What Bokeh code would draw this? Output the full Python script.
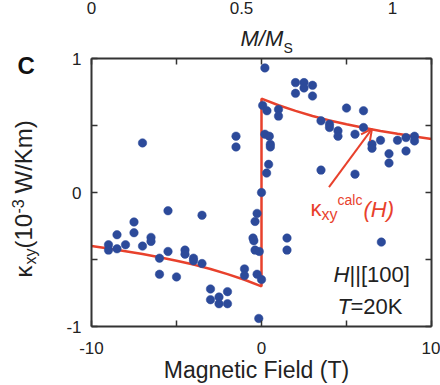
import math

from bokeh.embed import file_html
from bokeh.models import (Arrow, FixedTicker, Label, LinearAxis, OpenHead,
                          Range1d)
from bokeh.plotting import figure
from bokeh.resources import INLINE

# Measured thermal Hall conductivity kappa_xy (1e-3 W/Km) vs. magnetic field (T)
field = [-9.0, -9.0, -8.5, -8.5, -8.0, -7.5, -7.5, -7.0, -7.0, -6.5, -6.5,
         -6.0, -6.0, -5.5, -5.5, -5.0, -4.5, -4.5, -4.0, -4.0, -3.5, -3.5,
         -3.0, -3.0, -2.5, -2.5, -2.0, -2.0, -1.5, -1.5, -1.0, -1.0,
         -0.5, -0.45, -0.38, -0.38, -0.26, -0.26, -0.16, -0.13, 0.0, 0.0,
         0.07, 0.2, 0.2, 0.3, 0.32, 0.42, 0.46, 0.52, 0.52, 1.0, 1.0,
         1.5, 1.5, 2.0, 2.0, 2.5, 2.5, 3.0, 3.0, 3.5, 3.5, 4.0, 4.0,
         4.5, 4.5, 5.0, 5.5, 5.5, 6.0, 6.0, 6.5, 6.5, 7.0, 7.05,
         7.5, 7.5, 8.0, 8.5, 8.5, 9.0, 9.0]
kxy = [-0.39, -0.43, -0.315, -0.42, -0.39, -0.22, -0.30, -0.40, 0.37, -0.335, -0.365,
       -0.49, -0.61, -0.136, -0.44, -0.63, -0.43, -0.46, -0.49, -0.51, -0.17, -0.53,
       -0.72, -0.80, -0.78, -0.83, -0.74, -0.83, 0.42, 0.34, -0.57, -0.62,
       -0.34, -0.36, -0.216, -0.43, -0.156, -0.61, -0.94, -0.44, -0.65, 0.0,
       0.65, 0.93, 0.435, 0.145, 0.61, 0.21, 0.42, 0.36, 0.34, 0.62, 0.57,
       -0.34, -0.43, 0.82, 0.74, 0.82, 0.78, 0.80, 0.72, 0.535, 0.167, 0.51, 0.485,
       0.46, 0.42, 0.63, 0.435, 0.137, 0.61, 0.485, 0.36, 0.33, 0.39, -0.37,
       0.29, 0.22, 0.39, 0.41, 0.31, 0.42, 0.385]

# Calculated kappa_xy^calc(H), with the jump at zero field
calc_field = [-10, -9, -8, -7, -6, -5, -4, -3, -2, -1, 0,
              0, 1, 2, 3, 4, 5, 6, 7, 8, 9, 10]
calc_kxy = [-0.400, -0.418, -0.438, -0.459, -0.483, -0.509, -0.538, -0.571, -0.609, -0.651, -0.700,
            0.700, 0.651, 0.609, 0.571, 0.538, 0.509, 0.483, 0.459, 0.438, 0.418, 0.400]

x_ticks = [-10, -5, 0, 5, 10]
x_tick_labels = {-10: "-10", -5: "", 0: "0", 5: "", 10: "10"}
y_ticks = [-1, -0.5, 0, 0.5, 1]
y_tick_labels = {-1: "-1", -0.5: "", 0: "0", 0.5: "", 1: "1"}
ms_tick_labels = ["0", "0.5", "1"]

FONT = "Liberation Sans"
RED = "#e8412c"
BLUE = "#2c4a9a"
INK = "#333333"
TXT = "#222222"

# canvas size and the box of the axes, in canvas pixels
W, H = 440, 385
FL, FR, FT, FB = 91, 431, 58, 326
XLO, XHI, YLO, YHI = -10, 10, -1, 1
ppx = (FR - FL) / (XHI - XLO)
ppy = (FB - FT) / (YHI - YLO)

# the plotting frame fills the canvas; the axes sit on the box edges
p = figure(width=W, height=H,
           x_range=Range1d(XLO - FL / ppx, XHI + (W - FR) / ppx),
           y_range=Range1d(YLO - (H - FB) / ppy, YHI + FT / ppy),
           x_axis_location=None, y_axis_location=None,
           output_backend="svg", toolbar_location=None, min_border=0)
p.grid.visible = False
p.outline_line_color = None
p.background_fill_color = "white"
p.border_fill_color = "white"


def cx(px):
    """canvas pixel column -> data x"""
    return XLO + (px - FL) / ppx


def cy(py):
    """canvas pixel row -> data y"""
    return YHI - (py - FT) / ppy


def make_axis(ticks, labels, loc, bounds, standoff):
    ax = LinearAxis(ticker=FixedTicker(ticks=ticks), fixed_location=loc,
                    bounds=bounds)
    ax.axis_line_color = INK
    ax.axis_line_width = 2
    ax.major_tick_line_color = INK
    ax.major_tick_line_width = 1.5
    ax.major_tick_in = 6
    ax.major_tick_out = 0
    ax.minor_tick_line_color = None
    ax.major_label_overrides = labels
    ax.major_label_text_font = FONT
    ax.major_label_text_font_size = "17px"
    ax.major_label_text_color = TXT
    ax.major_label_standoff = standoff
    return ax


p.add_layout(make_axis(x_ticks, x_tick_labels, YLO, (XLO, XHI), 15), "below")
p.add_layout(make_axis(x_ticks, {t: "" for t in x_ticks}, YHI, (XLO, XHI), 5), "above")
p.add_layout(make_axis(y_ticks, y_tick_labels, XLO, (YLO, YHI), 10), "left")
p.add_layout(make_axis(y_ticks, {t: "" for t in y_ticks}, XHI, (YLO, YHI), 5), "right")

# calculated curve and measured points
p.line(calc_field, calc_kxy, line_color=RED, line_width=2.5)
p.scatter(field, kxy, size=8.5, fill_color=BLUE, line_color=BLUE, line_width=0.5)

p.add_layout(Arrow(end=OpenHead(size=11, line_color=RED, line_width=2),
                   x_start=3.97, y_start=0.04, x_end=6.5, y_end=0.475,
                   line_color=RED, line_width=2))

# the alphabetic anchor of a Label lands about 0.42 em below the requested
# point, so the helper takes the wanted baseline and compensates for it
DROP = 0.42


def text(px, py, s, size, color=TXT, style="normal", align="left", up=False):
    if up:
        px -= DROP * size
    else:
        py -= DROP * size
    p.add_layout(Label(x=cx(px), y=cy(py), text=s, text_font=FONT,
                       text_font_size=f"{size}px", text_font_style=style,
                       text_color=color, text_align=align,
                       text_baseline="alphabetic",
                       angle=math.pi / 2 if up else 0.0))


# kappa_xy^calc(H) annotation
text(310, 217, "κ", 22, RED)
text(321, 221, "xy", 16, RED)
text(337, 205, "calc", 14, RED)
text(363, 218, "(H)", 22, RED, style="italic")

# field direction and temperature
text(333, 283, "H", 22, style="italic")
text(349, 283, "||[100]", 22)
text(337, 315, "T", 22, style="italic")
text(350, 315, "=20K", 22)

# panel letter
text(17, 75, "C", 24, "#111111", style="bold")

# M/M_S scale title above the box, with its tick labels
text(240, 47, "M/M", 22, style="italic")
text(283, 53, "S", 14)
for px, s in zip([91, 241, 392], ms_tick_labels):
    text(px, 15, s, 17, align="center")

# x axis title
text(256, 379, "Magnetic Field (T)", 23, align="center")

# y axis title, rotated, built up from its pieces
text(33, 277, "κ", 24, up=True)
text(37, 264, "xy", 16, up=True)
text(33, 248, "(10", 24, up=True)
text(24, 213, "-3", 16, up=True)
text(33, 193, "W/Km)", 24, up=True)

open("out.html", "w").write(file_html(p, INLINE))
